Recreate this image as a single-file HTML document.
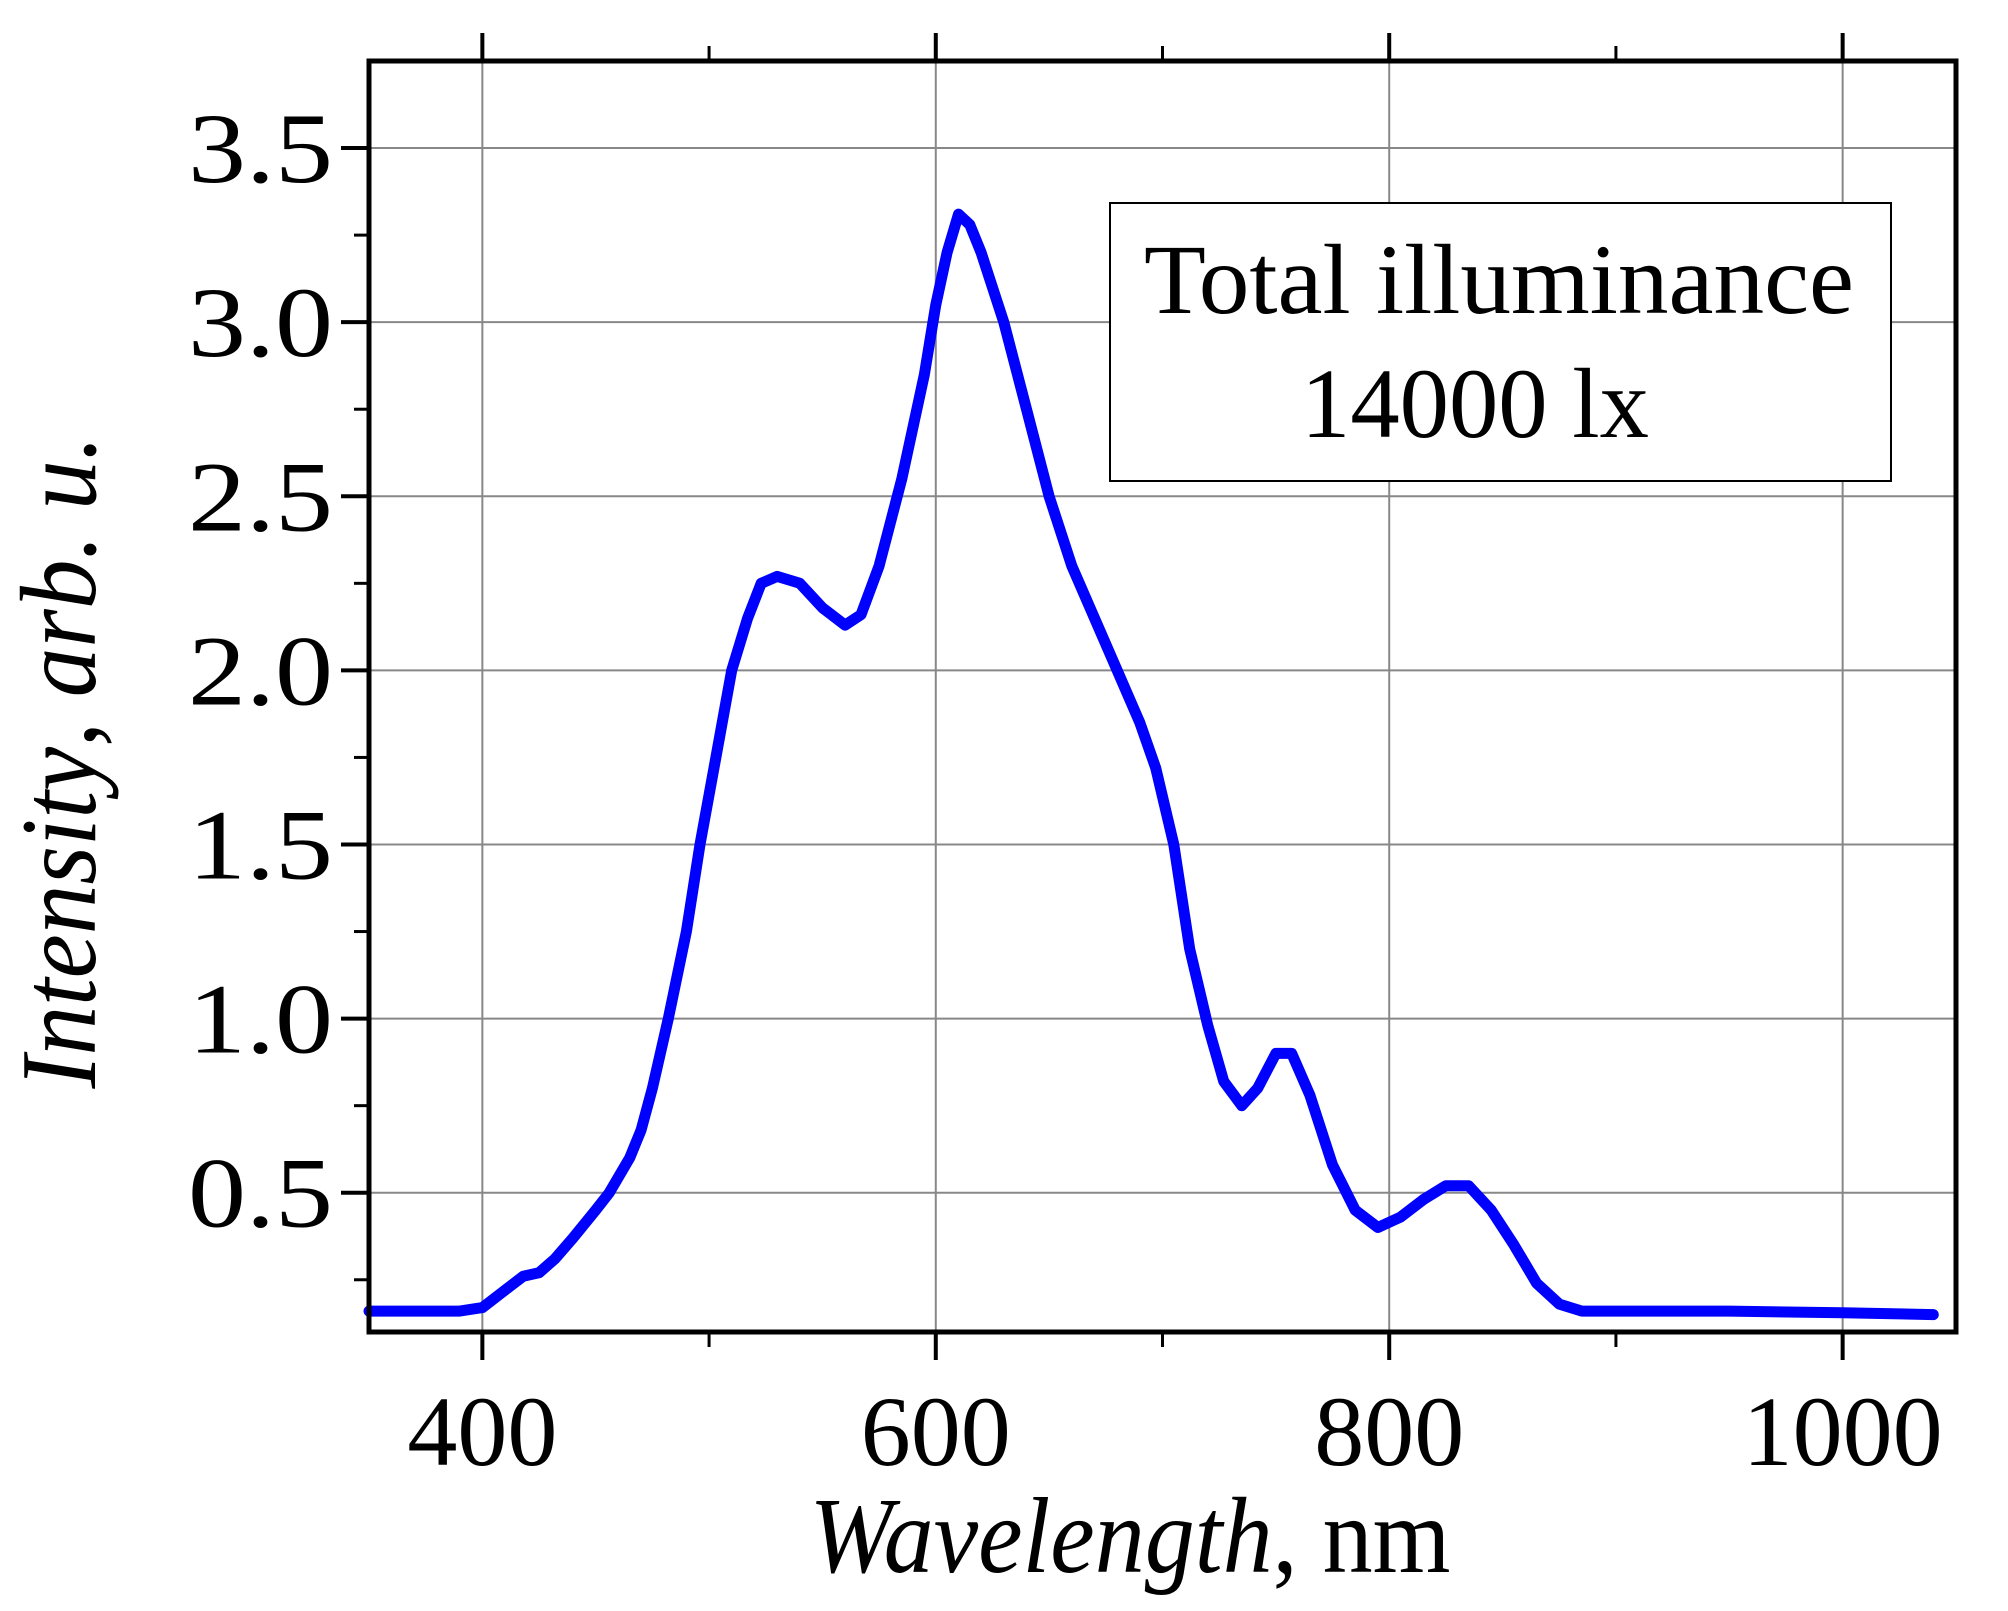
<!DOCTYPE html>
<html><head><meta charset="utf-8"><style>
html,body{margin:0;padding:0;background:#fff;}
svg{display:block;font-family:"Liberation Serif",serif;}
</style></head><body>
<svg id="chart" width="2008" height="1611" viewBox="0 0 2008 1611" xmlns="http://www.w3.org/2000/svg">
<g id="grid"></g>
<g id="series"></g>
<g id="axes"></g>
<g>
<rect x="1110" y="203" width="781" height="278" fill="#fff" stroke="#000" stroke-width="2"/>
<text x="1499" y="313" font-size="100" text-anchor="middle" textLength="710" lengthAdjust="spacingAndGlyphs">Total illuminance</text>
<text x="1475" y="437" font-size="100" text-anchor="middle" textLength="348" lengthAdjust="spacingAndGlyphs">14000 lx</text>
</g>
<text x="1130" y="1572" font-size="108" text-anchor="middle" textLength="641" lengthAdjust="spacingAndGlyphs"><tspan font-style="italic">Wavelength</tspan>, nm</text>
<text transform="translate(95,762) rotate(-90)" font-size="108" text-anchor="middle" textLength="653" lengthAdjust="spacingAndGlyphs"><tspan font-style="italic">Intensity</tspan>, <tspan font-style="italic">arb. u.</tspan></text>
</svg>
<script>
const xTicks = [400, 600, 800, 1000];
const xMinor = [500, 700, 900];
const yTicks = [0.5, 1.0, 1.5, 2.0, 2.5, 3.0, 3.5];
const yTickLabels = ["0.5","1.0","1.5","2.0","2.5","3.0","3.5"];
const yMinor = [0.25, 0.75, 1.25, 1.75, 2.25, 2.75, 3.25];
const wavelengths = [350,370,390,400,410,418,425,432,440,450,456,465,470,475,482,490,496,503,510,517,523,530,540,550,560,567,575,585,595,600,605,610,615,620,630,640,650,660,670,680,690,697,705,712,720,727,735,742,750,757,765,775,785,795,805,815,825,835,845,855,865,875,885,900,950,1000,1040];
const intensity = [0.16,0.16,0.16,0.17,0.22,0.26,0.27,0.31,0.37,0.45,0.5,0.6,0.68,0.8,1.0,1.25,1.5,1.75,2.0,2.15,2.25,2.27,2.25,2.18,2.13,2.16,2.3,2.55,2.85,3.05,3.2,3.31,3.28,3.2,3.0,2.75,2.5,2.3,2.15,2.0,1.85,1.72,1.5,1.2,0.98,0.82,0.75,0.8,0.9,0.9,0.78,0.58,0.45,0.4,0.43,0.48,0.52,0.52,0.45,0.35,0.24,0.18,0.16,0.16,0.16,0.155,0.15];

const L=369,R=1956,T=61,B=1332,X0=350,X1=1050,Y0=0.1,Y1=3.75;
const sx=v=>L+(v-X0)/(X1-X0)*(R-L);
const sy=v=>B-(v-Y0)/(Y1-Y0)*(B-T);
const NS="http://www.w3.org/2000/svg";
function mk(tag,attrs,parent){const e=document.createElementNS(NS,tag);for(const k in attrs)e.setAttribute(k,attrs[k]);parent.appendChild(e);return e;}
const grid=document.getElementById('grid'),axes=document.getElementById('axes'),series=document.getElementById('series');
xTicks.forEach(v=>{
  const g=mk('line',{x1:sx(v),x2:sx(v),y1:T,y2:B,stroke:'#888','stroke-width':2},grid);
  
  
  const t1=mk('line',{x1:sx(v),x2:sx(v),y1:B,y2:B+28,stroke:'#000','stroke-width':4},axes);
  
  
  const t2=mk('line',{x1:sx(v),x2:sx(v),y1:T,y2:T-28,stroke:'#000','stroke-width':4},axes);
  
  
  const lb=mk('text',{x:sx(v),y:1465,'font-size':100,'text-anchor':'middle'},axes);
  lb.textContent=v;
  
  
});
xMinor.forEach(v=>{
  const a=mk('line',{x1:sx(v),x2:sx(v),y1:B,y2:B+15,stroke:'#000','stroke-width':3},axes);
  
  
  const b=mk('line',{x1:sx(v),x2:sx(v),y1:T,y2:T-15,stroke:'#000','stroke-width':3},axes);
  
  
});
yTicks.forEach((v,i)=>{
  const g=mk('line',{x1:L,x2:R,y1:sy(v),y2:sy(v),stroke:'#888','stroke-width':2},grid);
  
  
  const t=mk('line',{x1:L-28,x2:L,y1:sy(v),y2:sy(v),stroke:'#000','stroke-width':4},axes);
  
  
  const lb=mk('text',{x:L-36,y:sy(v)+34,'font-size':100,'text-anchor':'end',textLength:145,lengthAdjust:'spacingAndGlyphs'},axes);
  lb.textContent=yTickLabels[i];
  
  
});
yMinor.forEach(v=>{
  const t=mk('line',{x1:L-15,x2:L,y1:sy(v),y2:sy(v),stroke:'#000','stroke-width':3},axes);
  
  
});
const frame=mk('rect',{x:L,y:T,width:R-L,height:B-T,fill:'none',stroke:'#000','stroke-width':5},axes);


const d=wavelengths.map((w,i)=>(i?'L':'M')+sx(w).toFixed(1)+','+sy(intensity[i]).toFixed(1)).join(' ');
const p=mk('path',{d:d,fill:'none',stroke:'#0000ff','stroke-width':11,'stroke-linejoin':'round','stroke-linecap':'round'},series);


</script>
</body></html>
